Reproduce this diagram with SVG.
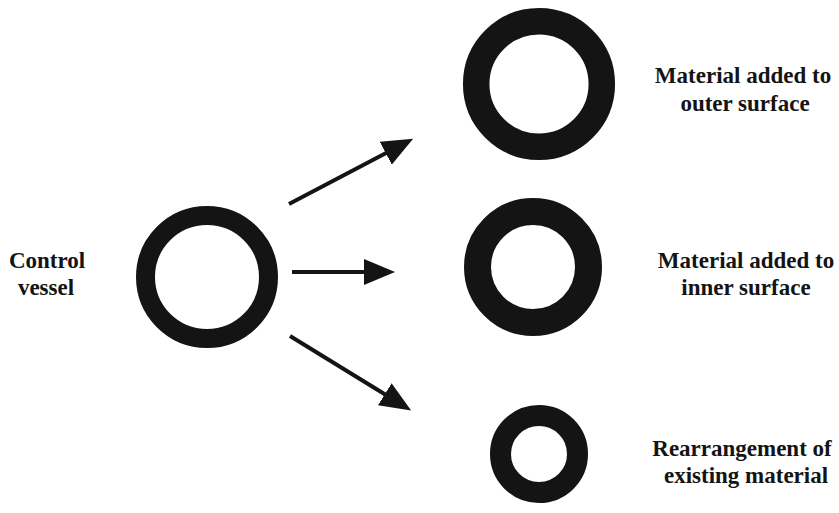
<svg xmlns="http://www.w3.org/2000/svg" width="839" height="513" viewBox="0 0 839 513">
<style>
.ring{fill:none;stroke:#141414}
.arr{stroke:#141414;stroke-width:4;fill:none;marker-end:url(#head)}
</style>
<defs>
<marker id="head" markerUnits="userSpaceOnUse" markerWidth="32" markerHeight="26" refX="1" refY="13" orient="auto" viewBox="0 0 32 26">
<path d="M0,0 L31,13 L0,26 z" fill="#141414"/>
</marker>
</defs>
<rect width="839" height="513" fill="#fff"/>
<g font-family="Liberation Serif, DejaVu Serif, serif" font-weight="bold" font-size="23" fill="#141414" text-anchor="middle">
<g id="control">
<circle class="ring" cx="207" cy="277" r="61.5" stroke-width="19"/>
<text x="47" y="268">Control</text>
<text x="46" y="295">vessel</text>
</g>
<g id="outer">
<circle class="ring" cx="539" cy="84" r="62.8" stroke-width="26.5"/>
<text x="743" y="83">Material added to</text>
<text x="745" y="111">outer surface</text>
</g>
<g id="inner">
<circle class="ring" cx="533" cy="267" r="55.5" stroke-width="27"/>
<text x="746" y="268">Material added to</text>
<text x="746" y="295">inner surface</text>
</g>
<g id="rearr">
<circle class="ring" cx="539" cy="454" r="38.5" stroke-width="21"/>
<text x="742" y="456">Rearrangement of</text>
<text x="746" y="483">existing material</text>
</g>
</g>
<g id="connectors">
<line class="arr" x1="289" y1="204" x2="386.6" y2="152.7"/>
<line class="arr" x1="292" y1="272" x2="365" y2="272"/>
<line class="arr" x1="290" y1="336" x2="385.6" y2="394.8"/>
</g>
</svg>
